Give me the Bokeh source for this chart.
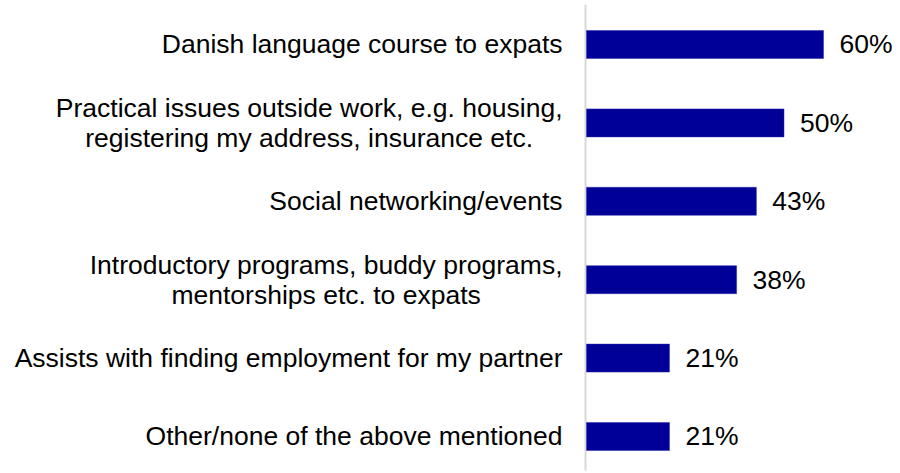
from bokeh.plotting import figure
from bokeh.models import ColumnDataSource, Range1d
from bokeh.core.properties import value
from bokeh.embed import file_html
from bokeh.resources import INLINE

categories = [
    "Danish language course to expats",
    "Practical issues outside work, e.g. housing,\nregistering my address, insurance etc.",
    "Social networking/events",
    "Introductory programs, buddy programs,\nmentorships etc. to expats",
    "Assists with finding employment for my partner",
    "Other/none of the above mentioned",
]
values = [60, 50, 43, 38, 21, 21]
value_labels = ["60%", "50%", "43%", "38%", "21%", "21%"]

positions = list(range(len(categories)))
source = ColumnDataSource(dict(y=positions, cat=categories, val=values, lab=value_labels))

p = figure(
    width=900, height=473,
    x_range=Range1d(-148.35, 79.49),
    y_range=Range1d(5.472, -0.561),
    x_axis_type=None, y_axis_type=None,
    output_backend="svg", toolbar_location=None,
    min_border=0, min_border_left=0, min_border_right=0,
    min_border_top=0, min_border_bottom=0,
)
p.grid.visible = False
p.outline_line_color = None
p.background_fill_color = "white"
p.border_fill_color = "white"

# vertical category axis line
p.segment(x0=[-0.25], y0=[-0.51], x1=[-0.25], y1=[5.434],
          line_color="#d9d9d9", line_width=2)

p.hbar(y="y", left=0, right="val", height=0.357, source=source,
       fill_color="#000099", line_color="#2a2aa8", line_width=0.5)

p.text(x=0, y="y", text="cat", source=source, x_offset=-24,
       anchor="center_right", text_align="center", text_baseline="middle",
       text_font=value("Liberation Sans"), text_font_size="26.5px",
       text_line_height=1.0, text_color="#000000")

p.text(x="val", y="y", text="lab", source=source, x_offset=16,
       text_align="left", text_baseline="middle",
       text_font=value("Liberation Sans"), text_font_size="26.5px",
       text_color="#000000")

open("out.html", "w").write(file_html(p, INLINE))
